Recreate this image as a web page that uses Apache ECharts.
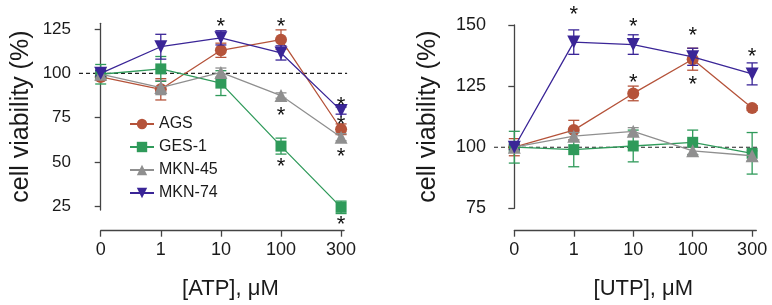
<!DOCTYPE html>
<html><head><meta charset="utf-8">
<script src="https://cdn.jsdelivr.net/npm/echarts@6/dist/echarts.min.js"></script>
<style>html,body{margin:0;padding:0;background:#fff}#c{width:772px;height:305px}</style>
</head><body><div id="c"></div>
<script>
// ---- data ----
const categories = ['0', '1', '10', '100', '300'];
const seriesNames = ['AGS', 'GES-1', 'MKN-45', 'MKN-74'];
const yTicksATP = [25, 50, 75, 100, 125];
const yTicksUTP = [75, 100, 125, 150];

const atpAGS = [98, 91, 113, 119, 68.5];
const atpAGSErr = [2, 6, 4, 5.5, 3];
const atpGES = [99.5, 102.5, 94.5, 59, 24.5];
const atpGESErr = [5.5, 7, 7, 4.5, 3.5];
const atpMKN45 = [99.5, 92, 100.5, 87.5, 64];
const atpMKN45Err = [2, 4, 2.5, 1.5, 2];
const atpMKN74 = [100, 115, 120, 111.5, 79];
const atpMKN74Err = [1.5, 7, 4, 4, 2];
const atpStars = [[2, 128.5], [3, 128.5], [3, 78.5], [3, 49.5], [4, 84], [4, 73.3], [4, 55], [4, 17]];

const utpAGS = [100, 107, 122, 136, 116];
const utpAGSErr = [3.5, 4, 3, 4.5, 1];
const utpGES = [100, 99, 100.5, 102, 97.5];
const utpGESErr = [6.5, 7, 6.5, 5, 8.5];
const utpMKN45 = [100, 104.5, 106.5, 98.5, 96.5];
const utpMKN45Err = [1.5, 1.5, 1.5, 1.5, 2];
const utpMKN74 = [100, 143, 142, 137, 130];
const utpMKN74Err = [1, 5, 4, 3.5, 4.5];
const utpStars = [[1, 155.6], [2, 150.7], [2, 127.8], [3, 147.3], [3, 127], [4, 138.5]];

const refLevel = 100;

// ---- styles ----
const FONT = 'Liberation Sans, Arial, sans-serif';
const TXT = '#1a1a1a';
const AX = '#444';
const colors = ['#b5533a', '#2f9a5a', '#8f8f8f', '#3a2597'];
const symbols = ['circle', 'rect', 'triangle', 'triangle'];
const symRot = [0, 0, 0, 180];
const symSize = [12, 11, 13, 13];

const chart = echarts.init(document.getElementById('c'));

const grids = [
  { left: 100.7, top: 23.3, width: 243.4, height: 186.7 },
  { left: 514.3, top: 25, width: 242, height: 183.3 }
];
const yOffsets = [21.7, 20.3];

function xAxisCfg(idx, name) {
  return {
    type: 'value', gridIndex: idx, min: 0, max: idx === 0 ? 4.05 : 4.07,
    position: 'bottom', offset: idx === 0 ? 20.7 : 22.4,
    axisLine: { lineStyle: { color: AX, width: 1.3 } },
    axisTick: { show: true, length: 6, lineStyle: { color: AX, width: 1.3 }, customValues: [0, 1, 2, 3, 4] },
    axisLabel: { customValues: [0, 1, 2, 3, 4], formatter: v => categories[v], fontSize: 18, color: TXT, fontFamily: FONT, margin: 10 },
    splitLine: { show: false },
    name: name, nameLocation: 'middle', nameGap: 47,
    nameTextStyle: { fontSize: 22, color: TXT, fontFamily: FONT, padding: [0, 0, 0, 16] }
  };
}
function yAxisCfg(idx, min, max, ticks, gap, fs) {
  return {
    type: 'value', gridIndex: idx, min: min, max: max, position: 'left', offset: yOffsets[idx],
    axisLine: { show: true, lineStyle: { color: AX, width: 1.3 } },
    axisTick: { show: true, length: 6, lineStyle: { color: AX, width: 1.3 }, customValues: ticks },
    axisLabel: { customValues: ticks, fontSize: fs, color: TXT, fontFamily: FONT, margin: 8 },
    splitLine: { show: false },
    name: 'cell viability (%)', nameLocation: 'middle', nameGap: gap,
    nameTextStyle: { fontSize: 25, color: TXT, fontFamily: FONT }
  };
}

const series = [];
function refLine(idx) {
  series.push({
    type: 'custom', xAxisIndex: idx, yAxisIndex: idx, z: 1, silent: true, clip: false,
    data: [[0, refLevel]],
    renderItem(params, api) {
      const cs = params.coordSys;
      const p = api.coord([api.value(0), api.value(1)]);
      return { type: 'line', shape: { x1: cs.x - yOffsets[idx], y1: p[1], x2: cs.x + cs.width + 3, y2: p[1] },
        style: { stroke: '#222', lineWidth: 1.1, lineDash: [4, 3] } };
    }
  });
}
function addSet(idx, k, means, errs) {
  const col = colors[k];
  series.push({
    type: 'custom', xAxisIndex: idx, yAxisIndex: idx, z: 2 + k, silent: true, clip: false,
    data: means.map((m, i) => [i, m - errs[i], m + errs[i]]),
    renderItem(params, api) {
      const x = api.value(0);
      const lo = api.coord([x, api.value(1)]);
      const hi = api.coord([x, api.value(2)]);
      const hw = 5.5;
      const st = { stroke: col, lineWidth: 1.3 };
      return { type: 'group', children: [
        { type: 'line', shape: { x1: lo[0], y1: lo[1], x2: hi[0], y2: hi[1] }, style: st },
        { type: 'line', shape: { x1: lo[0] - hw, y1: lo[1], x2: lo[0] + hw, y2: lo[1] }, style: st },
        { type: 'line', shape: { x1: hi[0] - hw, y1: hi[1], x2: hi[0] + hw, y2: hi[1] }, style: st }
      ] };
    }
  });
  series.push({
    type: 'line', name: seriesNames[k], xAxisIndex: idx, yAxisIndex: idx, z: 3 + k,
    data: means.map((m, i) => [i, m]),
    symbol: symbols[k], symbolSize: symSize[k], symbolRotate: symRot[k], showSymbol: true,
    lineStyle: { color: col, width: 1.3 }, itemStyle: { color: col },
    emphasis: { disabled: true }, animation: false
  });
}
function addStars(idx, stars) {
  series.push({
    type: 'custom', xAxisIndex: idx, yAxisIndex: idx, z: 20, silent: true, clip: false,
    data: stars,
    renderItem(params, api) {
      const p = api.coord([api.value(0), api.value(1)]);
      return { type: 'text', x: p[0], y: p[1] + 4, style: { text: '*', fontSize: 22, fontFamily: FONT, fill: '#111', align: 'center', verticalAlign: 'middle' } };
    }
  });
}

refLine(0); refLine(1);
addSet(0, 0, atpAGS, atpAGSErr);
addSet(0, 1, atpGES, atpGESErr);
addSet(0, 2, atpMKN45, atpMKN45Err);
addSet(0, 3, atpMKN74, atpMKN74Err);
addSet(1, 0, utpAGS, utpAGSErr);
addSet(1, 1, utpGES, utpGESErr);
addSet(1, 2, utpMKN45, utpMKN45Err);
addSet(1, 3, utpMKN74, utpMKN74Err);
addStars(0, atpStars);
addStars(1, utpStars);

chart.setOption({
  animation: false,
  backgroundColor: '#fff',
  grid: grids,
  xAxis: [xAxisCfg(0, '[ATP], μM'), xAxisCfg(1, '[UTP], μM')],
  yAxis: [yAxisCfg(0, 23, 128.2, yTicksATP, 45, 17), yAxisCfg(1, 75, 150, yTicksUTP, 53, 18)],
  legend: {
    show: true, orient: 'vertical', left: 124, top: 111,
    data: seriesNames, itemWidth: 24, itemHeight: 13, itemGap: 7,
    textStyle: { fontSize: 16, color: TXT, fontFamily: FONT },
    symbolRotate: 'inherit', selectedMode: false
  },
  series: series
});
</script></body></html>
